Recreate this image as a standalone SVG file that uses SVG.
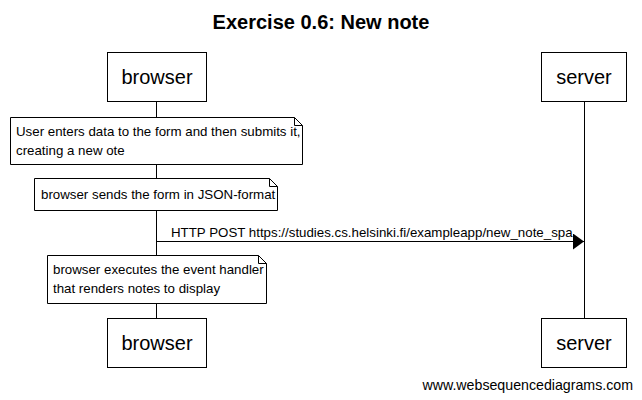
<svg xmlns="http://www.w3.org/2000/svg" width="642" height="400" viewBox="0 0 642 400">
<style>
text{font-family:"Liberation Sans",Arial,sans-serif;fill:#000}
.box{fill:#fff;stroke:#000;stroke-width:1}
.life{stroke:#000;stroke-width:1;fill:none}
.note{fill:#fff;stroke:#000;stroke-width:1}
.fold{fill:none;stroke:#000;stroke-width:1}
.pt{font-size:20px;text-anchor:middle}
.nt{font-size:13.3px}
</style>
<defs>
<marker id="ah" markerWidth="11" markerHeight="16" refX="11" refY="8" orient="auto" markerUnits="userSpaceOnUse">
<path d="M0,0 L11,8 L0,16 Z" fill="#000"/>
</marker>
</defs>
<rect width="642" height="400" fill="#fff"/>
<text x="321" y="29" font-size="20" font-weight="bold" text-anchor="middle">Exercise 0.6: New note</text>
<g id="lifelines">
<line class="life" x1="156.5" y1="102" x2="156.5" y2="318"/>
<line class="life" x1="584.5" y1="102" x2="584.5" y2="318"/>
</g>
<g id="browser-top"><rect class="box" x="107.5" y="52.5" width="99" height="49"/><text class="pt" x="157" y="84">browser</text></g>
<g id="server-top"><rect class="box" x="541.5" y="52.5" width="85" height="49"/><text class="pt" x="584" y="84">server</text></g>
<g id="note1">
<path class="note" d="M10.5,117.5 H294.5 L302.5,125.5 V164.5 H10.5 Z"/>
<path class="fold" d="M294.5,117.5 V125.5 H302.5"/>
<text class="nt" x="16" y="136">User enters data to the form and then submits it,</text>
<text class="nt" x="16" y="155">creating a new ote</text>
</g>
<g id="note2">
<path class="note" d="M34.5,178.5 H269.5 L277.5,186.5 V210.5 H34.5 Z"/>
<path class="fold" d="M269.5,178.5 V186.5 H277.5"/>
<text class="nt" x="41" y="199">browser sends the form in JSON-format</text>
</g>
<g id="connectors">
<line x1="156.5" y1="241.5" x2="584" y2="241.5" stroke="#000" stroke-width="1" marker-end="url(#ah)"/>
<text class="nt" x="171" y="237">HTTP POST https://studies.cs.helsinki.fi/exampleapp/new_note_spa</text>
</g>
<g id="note3">
<path class="note" d="M47.5,255.5 H258.5 L266.5,263.5 V303.5 H47.5 Z"/>
<path class="fold" d="M258.5,255.5 V263.5 H266.5"/>
<text class="nt" x="53" y="274">browser executes the event handler</text>
<text class="nt" x="53" y="293">that renders notes to display</text>
</g>
<g id="browser-bottom"><rect class="box" x="107.5" y="318.5" width="99" height="49"/><text class="pt" x="157" y="350">browser</text></g>
<g id="server-bottom"><rect class="box" x="541.5" y="318.5" width="85" height="49"/><text class="pt" x="584" y="350">server</text></g>
<text x="633" y="390" font-size="14.2" text-anchor="end">www.websequencediagrams.com</text>
</svg>
